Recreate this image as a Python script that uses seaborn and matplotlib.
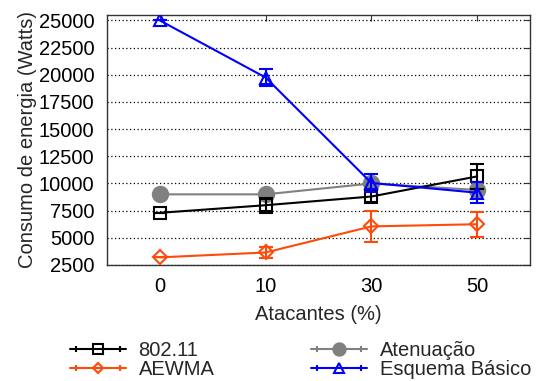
import matplotlib
matplotlib.use("Agg")
import matplotlib.pyplot as plt
from matplotlib.lines import Line2D
from matplotlib.legend_handler import HandlerLine2D, HandlerTuple
import seaborn as sns
import pandas as pd
import numpy as np

categories = ["0", "10", "30", "50"]
series_names = ["Atenuação", "802.11", "AEWMA", "Esquema Básico"]
v_atenuacao = [9000, 9000, 10000, 9400]
e_atenuacao = [0, 0, 0, 0]
v_80211 = [7300, 8000, 8800, 10650]
e_80211 = [0, 700, 550, 1150]
v_aewma = [3200, 3650, 6050, 6250]
e_aewma = [0, 500, 1450, 1150]
v_basico = [25000, 19750, 10050, 9150]
e_basico = [0, 800, 800, 950]

values = [v_atenuacao, v_80211, v_aewma, v_basico]
errors = [e_atenuacao, e_80211, e_aewma, e_basico]
colors = ["#808080", "#000000", "#ff4a0a", "#0000ff"]
markers = ["o", "s", "D", "^"]
mfcs = ["#808080", "none", "none", "none"]
msizes = [11, 9, 7, 9]

sns.set_style("white")
plt.rcParams["font.family"] = ["Liberation Sans", "DejaVu Sans"]
FS = 14.5

fig = plt.figure(figsize=(5.56, 3.81), dpi=100)
ax = fig.add_axes([0.1924, 0.3045, 0.7608, 0.6561])

rows = []
for name, vals, errs in zip(series_names, values, errors):
    for i, (c, v, e) in enumerate(zip(categories, vals, errs)):
        rows.append({"serie": name, "pos": i, "cat": c, "valor": v, "erro": e})
df = pd.DataFrame(rows)

handles = {}
for k, name in enumerate(series_names):
    sub = df[df["serie"] == name]
    sns.lineplot(data=sub, x="pos", y="valor", ax=ax, color=colors[k],
                 marker=markers[k], markersize=msizes[k], markerfacecolor=mfcs[k],
                 markeredgecolor=colors[k], markeredgewidth=1.5, linewidth=1.5,
                 legend=False, zorder=3 + k)
    ax.errorbar(sub["pos"], sub["valor"], yerr=sub["erro"], fmt="none",
                ecolor=colors[k], elinewidth=1.5, capsize=5, capthick=1.5, zorder=3 + k)
    main = Line2D([], [], color=colors[k], marker=markers[k], markersize=msizes[k] * 0.8,
                  markerfacecolor=mfcs[k], markeredgecolor=colors[k], markeredgewidth=1.5,
                  linewidth=1.5)
    caps = Line2D([], [], color=colors[k], marker="|", markersize=5, markeredgewidth=1.5,
                  linestyle="none")
    handles[name] = (main, caps)

ax.set_xlim(-0.5, 3.5)
ax.set_ylim(2500, 25500)
ax.set_xticks(range(len(categories)))
ax.set_xticklabels(categories)
ax.set_yticks(np.arange(2500, 25001, 2500))
ax.set_xlabel("Atacantes (%)", fontsize=FS, labelpad=6)
ax.set_ylabel("Consumo de energia (Watts)", fontsize=FS, labelpad=1)
ax.tick_params(axis="both", labelsize=FS, direction="in", length=4, width=0.8,
               top=True, right=True, colors="#333333", labelcolor="black")
ax.tick_params(axis="x", pad=9)
ax.tick_params(axis="y", pad=9)
ax.yaxis.grid(True, linestyle=(0, (1, 2)), color="black", linewidth=0.9)
ax.xaxis.grid(False)
for s in ax.spines.values():
    s.set_color("#333333")
    s.set_linewidth(1.0)

order = ["802.11", "AEWMA", "Atenuação", "Esquema Básico"]
hmap = {tuple: HandlerTuple(ndivide=1, pad=0)}
for name in order:
    hmap[handles[name][1]] = HandlerLine2D(numpoints=2)
leg = fig.legend([handles[n] for n in order], order, loc="upper left",
                 bbox_to_anchor=(0.126, 0.104), ncol=2, frameon=False,
                 fontsize=FS, handlelength=2.8, handletextpad=0.6, columnspacing=4.8,
                 labelspacing=0.0, borderpad=0, borderaxespad=0, handler_map=hmap)

fig.savefig("out.png", dpi=100)
